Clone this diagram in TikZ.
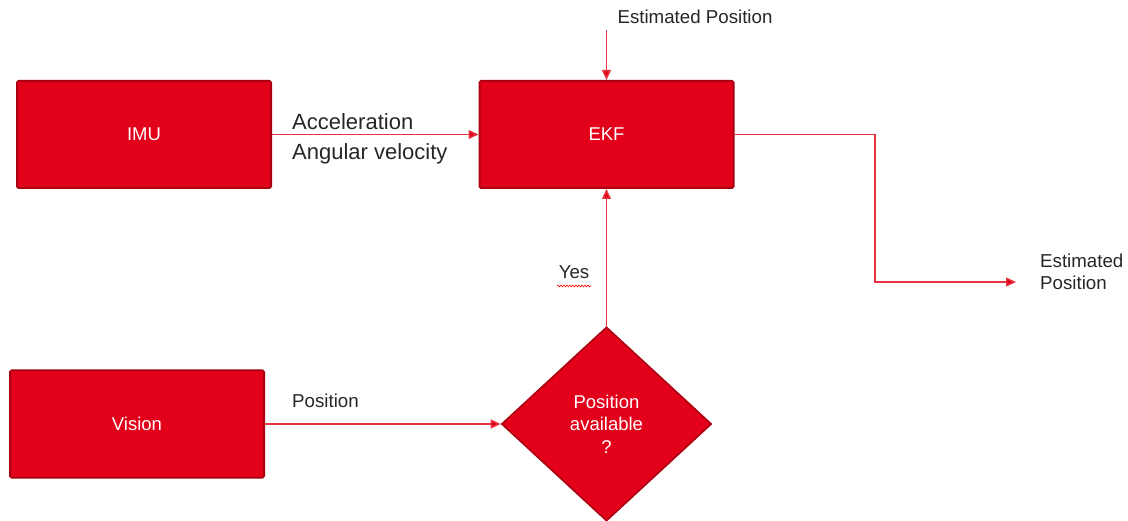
\documentclass[tikz,border=0pt]{standalone}
\usepackage{fontspec}
\setmainfont{Liberation Sans}
\usetikzlibrary{shapes.geometric,arrows.meta,decorations.pathmorphing}

\definecolor{boxred}{RGB}{226,0,26}
\definecolor{boxedge}{RGB}{170,0,16}
\definecolor{linkred}{RGB}{232,52,64}
\definecolor{labelgray}{RGB}{38,38,38}

\tikzset{
  block/.style={rectangle, rounded corners=1.5pt, fill=boxred, draw=boxedge,
    line width=2pt, minimum width=254pt, minimum height=107pt, inner sep=0pt,
    text=white, font=\fontsize{18.5}{22.5}\selectfont},
  decision/.style={diamond, fill=boxred, draw=boxedge, line width=1.6pt,
    minimum width=210pt, minimum height=194pt, inner sep=0pt, align=center,
    text=white, font=\fontsize{18.5}{22.5}\selectfont},
  link/.style={draw=linkred, line width=1.4pt,
    -{Triangle[length=10pt,width=9pt,fill=boxred]}},
  tag/.style={text=labelgray, inner sep=0pt, align=left,
    font=\fontsize{18.7}{22}\selectfont},
  bigtag/.style={text=labelgray, inner sep=0pt, align=left,
    font=\fontsize{22}{30}\selectfont},
}

\begin{document}
\begin{tikzpicture}[x=1pt, y=-1pt]
  \useasboundingbox (0,0) rectangle (1128,521);

  % processing blocks
  \node[block] (imu)    at (144,134.5) {IMU};
  \node[block] (ekf)    at (606.5,134.5) {EKF};
  \node[block] (vision) at (137,424) {Vision};
  \node[decision] (avail) at (606.5,424) {Position\\available\\?};

  % free ends of the outer connectors
  \coordinate (prior) at (606.5,30);
  \coordinate (bend)  at (875,134.5);
  \coordinate (out)   at (1016,282);

  % labels
  \node[tag, anchor=center] (priortxt) at (695,17) {Estimated Position};
  \node[bigtag, anchor=west] (imutxt) at (292,139) {Acceleration\\Angular velocity};
  \node[tag, anchor=west] (vistxt) at (292,401) {Position};
  \node[tag, anchor=center] (yes) at (574,272) {Yes};
  \node[tag, anchor=west] (outtxt) at (1040,272) {Estimated\\Position};

  % spell-check squiggle under "Yes"
  \draw[red, line width=0.6pt, decorate,
        decoration={snake, amplitude=0.9pt, segment length=3pt}]
    (557,286) -- (591,286);

  % connectors
  \draw[link] (imu.east) -- (ekf.west);
  \draw[link] (prior) -- (ekf.north);
  \draw[link] (vision.east) -- (avail.west);
  \draw[link] (avail.north) -- (ekf.south);
  \draw[link] (ekf.east) -- (bend) |- (out);
\end{tikzpicture}
\end{document}
